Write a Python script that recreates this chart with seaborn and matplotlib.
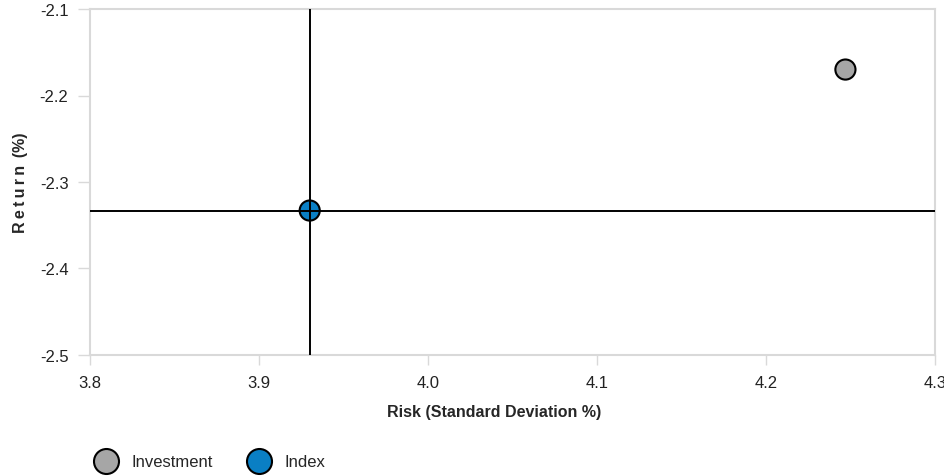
import matplotlib
matplotlib.use("Agg")
import matplotlib.pyplot as plt
from matplotlib.lines import Line2D
import seaborn as sns
import pandas as pd

names = ["Investment", "Index"]
risk = [4.247, 3.93]
ret = [-2.17, -2.333]
colors = ["#a6a6a6", "#0a7fc4"]
x_ticks = [3.8, 3.9, 4.0, 4.1, 4.2, 4.3]
y_ticks = [-2.5, -2.4, -2.3, -2.2, -2.1]

sns.set_theme(style="white")
plt.rcParams["font.family"] = ["Liberation Sans", "DejaVu Sans"]

df = pd.DataFrame({"name": names, "risk": risk, "ret": ret})

fig = plt.figure(figsize=(9.44, 4.77), dpi=100)
ax = fig.add_axes([90 / 944, 1 - 356 / 477, 845 / 944, 346 / 477])

sns.scatterplot(data=df, x="risk", y="ret", hue="name", palette=dict(zip(names, colors)),
                s=210, edgecolor="black", linewidth=1.5, legend=False, ax=ax, zorder=3)

# crosshair through the index point
idx = names.index("Index")
ax.axvline(risk[idx], color="black", lw=1.4, zorder=4)
ax.axhline(ret[idx], color="black", lw=1.4, zorder=4)

ax.set_xlim(x_ticks[0], x_ticks[-1])
ax.set_ylim(y_ticks[0], y_ticks[-1])
ax.set_xticks(x_ticks)
ax.set_yticks(y_ticks)
ax.set_xticklabels([f"{v:.1f}" for v in x_ticks])
ax.set_yticklabels([f"{v:.1f}" for v in y_ticks])
ax.tick_params(axis="both", width=1, color="#d9d9d9", labelsize=12,
               labelcolor="#222222", direction="out", bottom=True, left=True)
ax.tick_params(axis="x", length=7.5, pad=7)
ax.tick_params(axis="y", length=8.5, pad=7)
for sp in ax.spines.values():
    sp.set_color("#d9d9d9")
    sp.set_linewidth(1.5)

ax.set_xlabel("Risk (Standard Deviation %)", fontsize=11.5, fontweight="bold")
ax.xaxis.set_label_coords((494 - 90) / 845, -(413 - 356) / 346)
ax.set_ylabel("R\u2009e\u2009t\u2009u\u2009r\u2009n\u2009 (%)", fontsize=11.5,
              fontweight="bold")
ax.yaxis.set_label_coords(-(90 - 21) / 845, 0.5 + (183 - 182.5) / 346)
ax.xaxis.label.set_va("center")
ax.yaxis.label.set_va("center")

handles = [Line2D([], [], marker="o", linestyle="none", markersize=18,
                  markerfacecolor=c, markeredgecolor="black", markeredgewidth=1.5)
           for c in colors]
fig.legend(handles, names, loc="center left", bbox_to_anchor=(86.5 / 944, 1 - 463 / 477),
           ncol=2, frameon=False, fontsize=12, handletextpad=0.78, columnspacing=2.06,
           handlelength=1.5, borderaxespad=0, borderpad=0.4)

fig.savefig("out.png", dpi=100)
